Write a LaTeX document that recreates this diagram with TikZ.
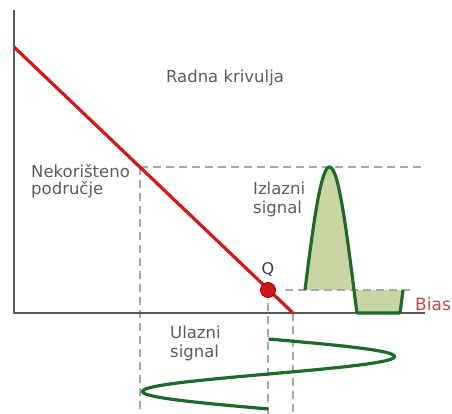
\documentclass[tikz,border=0pt]{standalone}
\usepackage{fontspec}
\usepackage{xcolor}
\usepackage{tikz}
\usetikzlibrary{positioning, calc}
\newfontfamily\lblfont{DejaVu Sans}
\definecolor{axisgray}{HTML}{5a5a5a}
\definecolor{guidegray}{HTML}{a8a8a8}
\definecolor{loadred}{HTML}{d01818}
\definecolor{sigdark}{HTML}{1d6a2b}
\definecolor{sigfill}{HTML}{c9d5a3}
\definecolor{textgray}{HTML}{5c5c5c}
\definecolor{qblue}{HTML}{3a3a55}
\definecolor{biasred}{HTML}{c24848}
\tikzstyle{axis} = [draw=axisgray, line width=2.2pt]
\tikzstyle{loadline} = [draw=loadred, line width=3.2pt]
\tikzstyle{guide} = [draw=guidegray, line width=1.8pt, dash pattern=on 8pt off 5pt]
\tikzstyle{sigline} = [draw=sigdark, line width=3.2pt, line join=round]
\tikzstyle{qdot} = [circle, fill=loadred, draw=red!60!black, line width=0.8pt, minimum size=15pt, inner sep=0pt]
\tikzstyle{lbl} = [font=\lblfont\fontsize{16.5}{19}\selectfont, text=textgray, align=left, inner sep=0pt]

\begin{document}
\begin{tikzpicture}[x=1pt, y=-1pt]
  \useasboundingbox (0,0) rectangle (452,414);
  \clip (0,0) rectangle (452,414);

  \coordinate (ytop) at (14,10);
  \coordinate (O) at (14,313);
  \coordinate (xend) at (425,313);
  \coordinate (lstart) at (14,47);
  \coordinate (lend) at (293,313);
  \coordinate (cut) at (140,167);
  \coordinate (peakend) at (425,167);
  \coordinate (qend) at (413,290);

  \fill[sigfill] plot[domain=305:403, samples=80]
    (\x, {min(313, 290-123*sin((\x-305)/49*180))}) -- cycle;

  \draw[guide] (cut) -- (peakend);
  \draw[guide] (cut) -- (cut |- 0,414);
  \draw[guide] ($(268,290)+(17,0)$) -- (qend);
  \draw[guide] (268,290) -- (268,414);
  \draw[guide] (lend) -- (lend |- 0,414);

  \draw[axis] (ytop) -- (O) -- (xend);
  \draw[loadline] (lstart) -- (lend);

  \draw[sigline] plot[domain=305:403, samples=120]
    (\x, {min(313, 290-123*sin((\x-305)/49*180))});
  \draw[sigline] plot[domain=0:360, samples=120]
    ({268.5+126*sin(\x)}, {339+\x/360*70});

  \node (Q) [qdot] at (268,290) {};
  \node (qlbl) [lbl, font=\lblfont\fontsize{16}{18}\selectfont, text=qblue, anchor=base] at (268,274) {Q};
  \node (bias) [lbl, font=\lblfont\fontsize{17}{20}\selectfont, text=biasred, anchor=base west] at (415,310) {Bias};

  \node (radna) [lbl, anchor=base] at (225,83) {Radna krivulja};
  \node (nekor) [lbl, anchor=base west, font=\lblfont\fontsize{16.5}{17}\selectfont] at (31,194) {Nekorišteno\\područje};
  \node (izlaz) [lbl, anchor=base west] at (253,213) {Izlazni\\signal};
  \node (ulaz) [lbl, anchor=base west] at (170,357) {Ulazni\\signal};
\end{tikzpicture}
\end{document}
